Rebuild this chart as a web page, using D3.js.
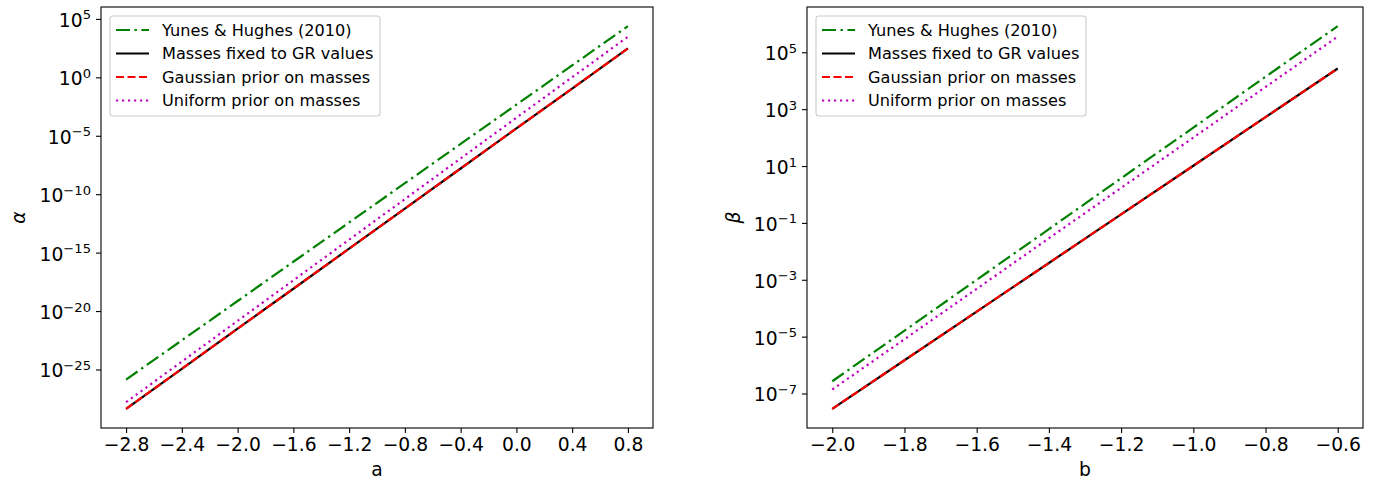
<!DOCTYPE html>
<html>
<head>
<meta charset="utf-8">
<script src="https://cdn.jsdelivr.net/npm/d3@7"></script>
<style>
  html, body { margin: 0; padding: 0; background: #fff; }
  svg { display: block; }
  svg text { font-family: "DejaVu Sans", "Bitstream Vera Sans", Verdana, sans-serif; }
</style>
</head>
<body>
<svg id="fig" width="1376" height="480"></svg>
<script>
// Left panel: alpha as a function of the exponent a
const aValues = [-2.8, -2.4, -2.0, -1.6, -1.2, -0.8, -0.4, 0.0, 0.4, 0.8];
const alphaYunes    = [1.38e-26, 3.16e-23, 7.24e-20, 1.66e-16, 3.80e-13, 8.71e-10, 2.00e-6, 4.57e-3, 10.5, 2.40e4];
const alphaFixed    = [4.27e-29, 1.15e-25, 3.09e-22, 8.13e-19, 2.19e-15, 5.89e-12, 1.58e-8, 4.27e-5, 0.110, 295];
const alphaGaussian = [4.27e-29, 1.15e-25, 3.09e-22, 8.13e-19, 2.19e-15, 5.89e-12, 1.58e-8, 4.27e-5, 0.110, 295];
const alphaUniform  = [1.58e-28, 4.79e-25, 1.45e-21, 4.27e-18, 1.29e-14, 3.80e-11, 1.15e-7, 3.47e-4, 1.02, 2.95e3];
const aTicks = [-2.8, -2.4, -2.0, -1.6, -1.2, -0.8, -0.4, 0.0, 0.4, 0.8];
const alphaTickExps = [5, 0, -5, -10, -15, -20, -25];

// Right panel: beta as a function of the exponent b
const bValues = [-2.0, -1.8, -1.6, -1.4, -1.2, -1.0, -0.8, -0.6];
const betaYunes    = [2.69e-7, 1.62e-5, 1.00e-3, 6.03e-2, 3.72, 224, 1.38e4, 8.32e5];
const betaFixed    = [2.88e-8, 1.48e-6, 7.59e-5, 3.89e-3, 0.200, 10.2, 525, 2.69e4];
const betaGaussian = [2.88e-8, 1.48e-6, 7.59e-5, 3.89e-3, 0.200, 10.2, 525, 2.69e4];
const betaUniform  = [1.38e-7, 8.13e-6, 4.79e-4, 2.88e-2, 1.70, 100, 6.03e3, 3.55e5];
const bTicks = [-2.0, -1.8, -1.6, -1.4, -1.2, -1.0, -0.8, -0.6];
const betaTickExps = [5, 3, 1, -1, -3, -5, -7];

const seriesNames = ["Yunes & Hughes (2010)", "Masses fixed to GR values", "Gaussian prior on masses", "Uniform prior on masses"];

const LW = 2.2;
const styles = [
  { color: "#008000", dash: [14, 4.5, 2.4, 4.5].join(",") },
  { color: "#000000", dash: null },
  { color: "#ff0000", dash: [8, 3.5].join(",") },
  { color: "#bf00bf", dash: [2.2, 3.8].join(",") }
];

const svg = d3.select("#fig");

// size text so that a sample string spans a given width in the installed font
function fitSize(str, targetWidth) {
  const t = svg.append("text").attr("font-size", 100).text(str);
  const w = t.node().getComputedTextLength();
  t.remove();
  return w > 0 ? 100 * targetWidth / w : 16;
}
const LEG_FS = fitSize("Masses fixed to GR values", 211.5);
const TICK_FS = fitSize("\u22122.8", 45.5);
const EXP_FS = TICK_FS * 0.7;
const minusFmt = v => (v < 0 ? "\u2212" : "") + Math.abs(v).toFixed(1);

function panel(opts) {
  const { left, right, top, bottom, xs, ys, xTicks, yExps, xLabel, yLabel, yLabelX } = opts;
  const g = svg.append("g");

  const xExt = d3.extent(xs);
  const xPad = (xExt[1] - xExt[0]) * 0.05;
  const x = d3.scaleLinear().domain([xExt[0] - xPad, xExt[1] + xPad]).range([left, right]);

  const allY = ys.flat();
  const lo = Math.log10(d3.min(allY)), hi = Math.log10(d3.max(allY));
  const yPad = (hi - lo) * 0.05;
  const y = d3.scaleLog().domain([Math.pow(10, lo - yPad), Math.pow(10, hi + yPad)]).range([bottom, top]);

  // series lines (drawn in legend order)
  const line = d3.line().x(d => x(d[0])).y(d => y(d[1]));
  ys.forEach((vals, i) => {
    const pts = xs.map((v, k) => [v, vals[k]]);
    g.append("path")
      .attr("d", line(pts))
      .attr("fill", "none")
      .attr("stroke", styles[i].color)
      .attr("stroke-width", LW)
      .attr("stroke-dasharray", styles[i].dash)
      .attr("stroke-linecap", "butt");
  });

  // x axis
  const xAxis = d3.axisBottom(x).tickValues(xTicks).tickFormat(minusFmt).tickSize(5).tickPadding(5);
  const xg = g.append("g").attr("transform", `translate(0,${bottom})`).call(xAxis)
    .attr("font-family", null).attr("font-size", null);
  xg.select(".domain").remove();
  xg.selectAll(".tick line").attr("stroke", "#000").attr("stroke-width", 1.1);
  xg.selectAll(".tick text").attr("font-size", TICK_FS).attr("fill", "#000").attr("dy", "0.72em");

  // y axis with 10^n labels
  const yAxis = d3.axisLeft(y).tickValues(yExps.map(e => Math.pow(10, e))).tickFormat("").tickSize(5);
  const yg = g.append("g").attr("transform", `translate(${left},0)`).call(yAxis)
    .attr("font-family", null).attr("font-size", null);
  yg.select(".domain").remove();
  yg.selectAll(".tick line").attr("stroke", "#000").attr("stroke-width", 1.1);
  yg.selectAll(".tick text").remove();
  yExps.forEach(e => {
    const yy = y(Math.pow(10, e));
    const t = yg.append("text")
      .attr("x", -10)
      .attr("y", yy + 8)
      .attr("text-anchor", "end")
      .attr("font-size", TICK_FS)
      .attr("fill", "#000");
    t.append("tspan").text("10");
    t.append("tspan").attr("font-size", EXP_FS).attr("dy", -7.5)
      .text((e < 0 ? "\u2212" : "") + Math.abs(e));
  });

  // frame
  g.append("rect")
    .attr("x", left).attr("y", top)
    .attr("width", right - left).attr("height", bottom - top)
    .attr("fill", "none").attr("stroke", "#000").attr("stroke-width", 1.1);

  // axis labels
  g.append("text")
    .attr("x", (left + right) / 2).attr("y", 476)
    .attr("text-anchor", "middle").attr("font-size", TICK_FS).text(xLabel);
  g.append("text")
    .attr("transform", `translate(${yLabelX},${(top + bottom) / 2}) rotate(-90)`)
    .attr("text-anchor", "middle").attr("font-size", TICK_FS).attr("font-style", "italic")
    .attr("dy", "0.35em").text(yLabel);

  // legend
  const lx = left + 9, ly = top + 9, lw = 270, lh = 100;
  const leg = g.append("g");
  leg.append("rect")
    .attr("x", lx).attr("y", ly).attr("width", lw).attr("height", lh)
    .attr("rx", 3).attr("ry", 3)
    .attr("fill", "#fff").attr("fill-opacity", 0.8)
    .attr("stroke", "#cccccc").attr("stroke-width", 1.1);
  seriesNames.forEach((name, i) => {
    const cy = ly + 14 + i * 23.5;
    leg.append("line")
      .attr("x1", lx + 6).attr("x2", lx + 39)
      .attr("y1", cy).attr("y2", cy)
      .attr("stroke", styles[i].color)
      .attr("stroke-width", LW)
      .attr("stroke-dasharray", styles[i].dash);
    leg.append("text")
      .attr("x", lx + 52).attr("y", cy)
      .attr("dy", "0.36em")
      .attr("font-size", LEG_FS).attr("fill", "#000")
      .text(name);
  });
}

panel({
  left: 101, right: 653, top: 7, bottom: 428,
  xs: aValues, ys: [alphaYunes, alphaFixed, alphaGaussian, alphaUniform],
  xTicks: aTicks, yExps: alphaTickExps, xLabel: "a", yLabel: "\u03b1", yLabelX: 18
});
panel({
  left: 807, right: 1363, top: 7, bottom: 428,
  xs: bValues, ys: [betaYunes, betaFixed, betaGaussian, betaUniform],
  xTicks: bTicks, yExps: betaTickExps, xLabel: "b", yLabel: "\u03b2", yLabelX: 733
});
</script>
</body>
</html>
